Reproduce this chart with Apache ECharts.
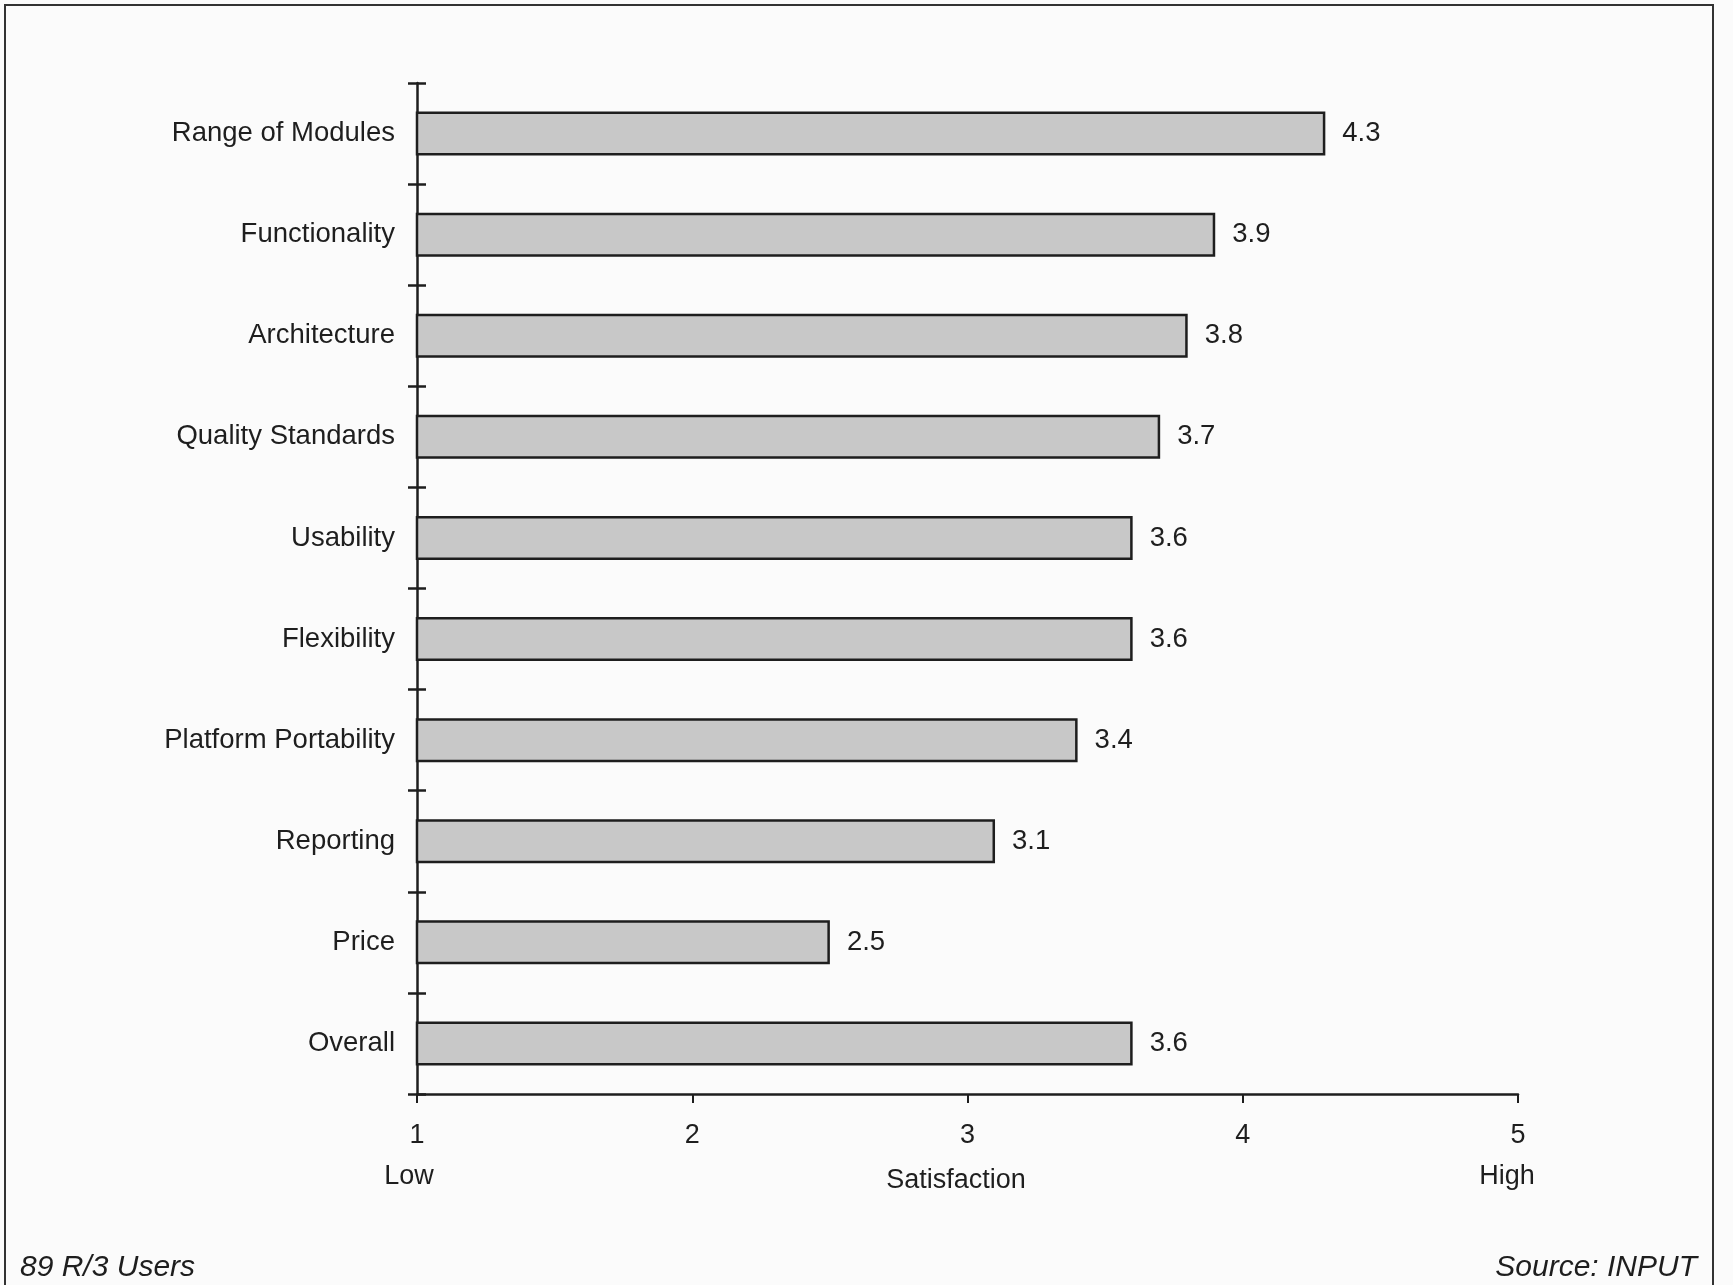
<!DOCTYPE html>
<html>
<head>
<meta charset="utf-8">
<script src="https://cdn.jsdelivr.net/npm/echarts@6/dist/echarts.min.js"></script>
<style>
html,body{margin:0;padding:0;background:#fbfbfb;}
#chart{width:1733px;height:1285px;}
</style>
</head>
<body>
<div id="chart"></div>
<script>
const categories = ['Range of Modules','Functionality','Architecture','Quality Standards','Usability','Flexibility','Platform Portability','Reporting','Price','Overall'];
const satisfaction = [4.3, 3.9, 3.8, 3.7, 3.6, 3.6, 3.4, 3.1, 2.5, 3.6];
const xTicks = [1, 2, 3, 4, 5];

const FONT = '"Liberation Sans", Arial, Helvetica, sans-serif';
const INK = '#1e1e1e';
const chart = echarts.init(document.getElementById('chart'));
chart.setOption({
  backgroundColor: '#fbfbfb',
  animation: false,
  grid: { left: 417, right: 215, top: 83, bottom: 191 },
  xAxis: {
    type: 'value', min: xTicks[0], max: xTicks[xTicks.length - 1], interval: 1,
    axisLine: { show: true, lineStyle: { color: INK, width: 2.5 } },
    axisTick: { show: true, length: 9, lineStyle: { color: INK, width: 2 } },
    axisLabel: { fontFamily: FONT, fontSize: 27, color: INK, margin: 28 },
    splitLine: { show: false }
  },
  yAxis: [{
    type: 'category', data: categories, inverse: true, position: 'left',
    axisLine: { show: true, lineStyle: { color: INK, width: 2.5 } },
    axisTick: { show: true, length: 9, lineStyle: { color: INK, width: 2.5 } },
    axisLabel: { fontFamily: FONT, fontSize: 27.5, color: INK, margin: 22, padding: [5, 0, 0, 0] }
  }, {
    type: 'category', data: categories, inverse: true, position: 'left',
    axisLine: { show: false },
    axisTick: { show: true, inside: true, length: 9, lineStyle: { color: INK, width: 2.5 } },
    axisLabel: { show: false }
  }],
  series: [{
    type: 'bar', data: satisfaction, yAxisIndex: 0, barWidth: 44,
    itemStyle: { color: '#c8c8c8', borderColor: INK, borderWidth: 2.5 },
    label: {
      show: true, position: 'right', distance: 17,
      fontFamily: FONT, fontSize: 27.5, color: INK, padding: [5, 0, 0, 0],
      formatter: p => p.value.toFixed(1)
    }
  }],
  graphic: [
    { type: 'rect', shape: { x: 5, y: 5, width: 1708, height: 1300 }, style: { fill: 'none', stroke: '#333', lineWidth: 2 } },
    { type: 'text', x: 409, y: 1177, style: { text: 'Low', font: '27px ' + FONT, fill: INK, textAlign: 'center', textVerticalAlign: 'middle' } },
    { type: 'text', x: 956, y: 1181, style: { text: 'Satisfaction', font: '27px ' + FONT, fill: INK, textAlign: 'center', textVerticalAlign: 'middle' } },
    { type: 'text', x: 1507, y: 1177, style: { text: 'High', font: '27px ' + FONT, fill: INK, textAlign: 'center', textVerticalAlign: 'middle' } },
    { type: 'text', x: 20, y: 1268, style: { text: '89 R/3 Users', font: 'italic 30px ' + FONT, fill: INK, textAlign: 'left', textVerticalAlign: 'middle' } },
    { type: 'text', x: 1697, y: 1268, style: { text: 'Source: INPUT', font: 'italic 30px ' + FONT, fill: INK, textAlign: 'right', textVerticalAlign: 'middle' } }
  ]
});
</script>
</body>
</html>
